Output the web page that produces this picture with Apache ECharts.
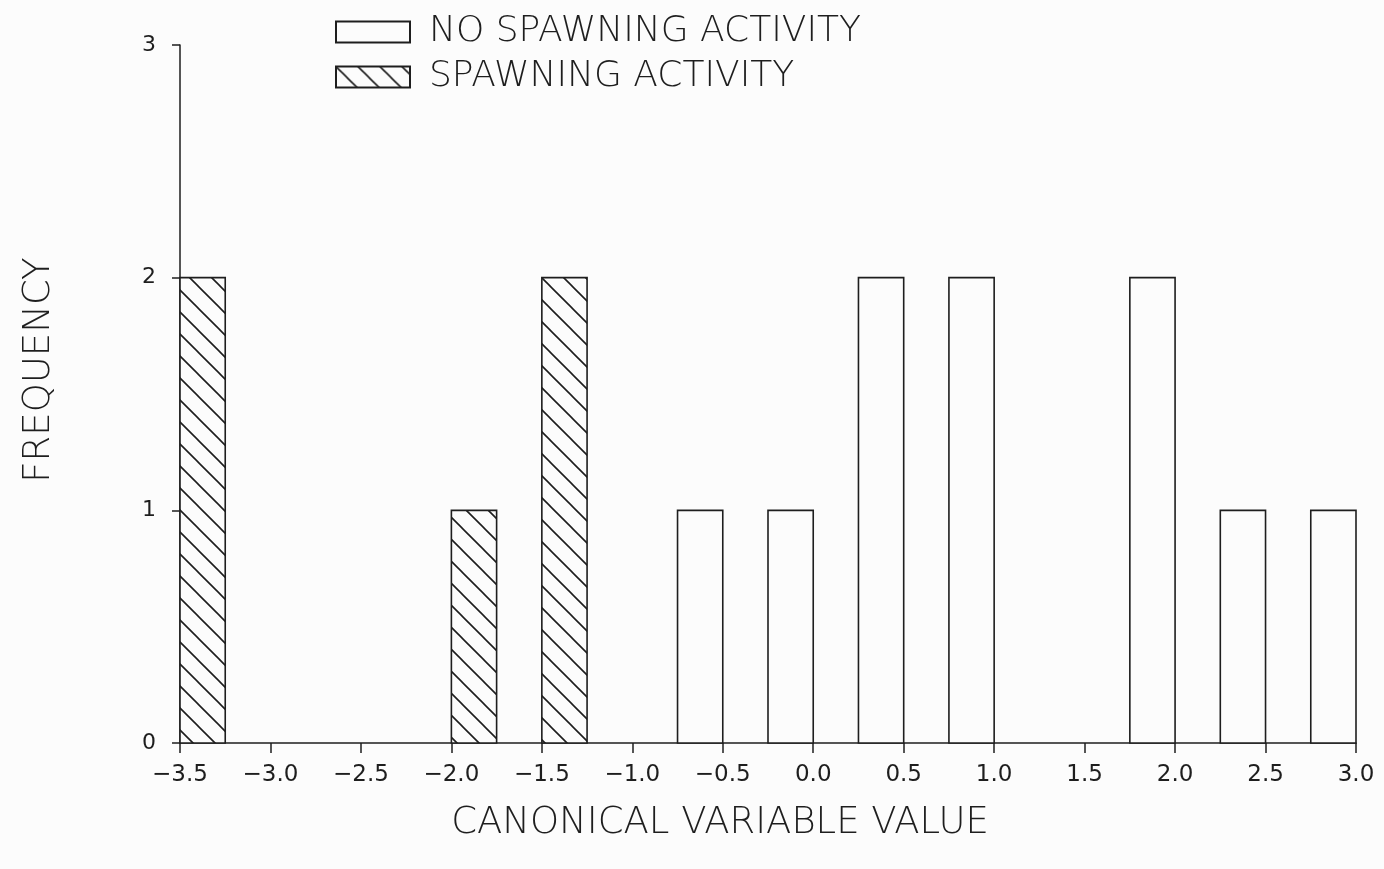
<!DOCTYPE html>
<html>
<head>
<meta charset="utf-8">
<script src="https://cdn.jsdelivr.net/npm/echarts@6/dist/echarts.min.js"></script>
<style>
  html, body { margin: 0; padding: 0; background: #fcfcfc; }
  #main { width: 1384px; height: 869px; }
</style>
</head>
<body>
<div id="main"></div>
<script>
// histogram bins (left edge of each bin) and counts
var binWidth = 0.25
var noSpawnStart = [-0.75, -0.25, 0.25, 0.75, 1.75, 2.25, 2.75]
var noSpawnCount = [1, 1, 2, 2, 2, 1, 1]
var spawnStart = [-3.5, -2.0, -1.5]
var spawnCount = [2, 1, 2]

var ink = '#1e1e1e'
var font = 'DejaVu Sans'

// diagonal hatch pattern (top-left to bottom-right)
function makeHatch() {
  var s = 22
  var c = document.createElement('canvas')
  c.width = s
  c.height = s
  var ctx = c.getContext('2d')
  ctx.fillStyle = '#fcfcfc'
  ctx.fillRect(0, 0, s, s)
  ctx.strokeStyle = ink
  ctx.lineWidth = 1.6
  ctx.beginPath()
  ctx.moveTo(-2, -2)
  ctx.lineTo(s + 2, s + 2)
  ctx.moveTo(-2, s - 2)
  ctx.lineTo(2, s + 2)
  ctx.moveTo(s - 2, -2)
  ctx.lineTo(s + 2, 2)
  ctx.stroke()
  return c
}

function toData(starts, counts) {
  var list = []
  for (var i = 0; i < starts.length; i++) {
    list.push([starts[i], starts[i] + binWidth, counts[i]])
  }
  return list
}

function renderBin(params, api) {
  var p0 = api.coord([api.value(0), api.value(2)])
  var p1 = api.coord([api.value(1), 0])
  return {
    type: 'rect',
    shape: { x: p0[0], y: p0[1], width: p1[0] - p0[0], height: p1[1] - p0[1] },
    style: api.style()
  }
}

var myChart = echarts.init(document.getElementById('main'))
var hatch = { image: makeHatch(), repeat: 'repeat' }
var titleText = { fontFamily: font, fontWeight: 200, fontSize: 37, color: ink }

var option = {
  backgroundColor: '#fcfcfc',
  animation: false,
  grid: { left: 180, right: 28, top: 45, bottom: 126 },
  legend: {
    left: 330,
    top: 9,
    orient: 'vertical',
    icon: 'rect',
    itemWidth: 74,
    itemHeight: 21,
    itemGap: 9,
    selectedMode: false,
    textStyle: Object.assign({}, titleText, { fontSize: 36, padding: [0, 0, 0, 14] }),
    data: ['NO SPAWNING ACTIVITY', 'SPAWNING ACTIVITY']
  },
  xAxis: {
    type: 'value',
    min: -3.5,
    max: 3.0,
    interval: 0.5,
    name: 'CANONICAL VARIABLE VALUE',
    nameLocation: 'middle',
    nameGap: 62,
    nameTextStyle: Object.assign({}, titleText, { padding: [0, 96, 0, 0] }),
    axisLine: { onZero: false, lineStyle: { color: ink, width: 1.5 } },
    axisTick: { show: true, length: 10, lineStyle: { color: ink, width: 1.5 } },
    axisLabel: {
      fontFamily: font, fontSize: 23, color: ink, margin: 21,
      formatter: function (v) { return (v < 0 ? '\u2212' : '') + Math.abs(v).toFixed(1) }
    },
    splitLine: { show: false }
  },
  yAxis: {
    type: 'value',
    min: 0,
    max: 3,
    interval: 1,
    name: 'FREQUENCY',
    nameLocation: 'middle',
    nameGap: 122,
    nameTextStyle: Object.assign({}, titleText, { padding: [0, 0, 0, 48] }),
    axisLine: { show: true, onZero: false, lineStyle: { color: ink, width: 1.5 } },
    axisTick: { show: true, length: 8, lineStyle: { color: ink, width: 1.5 } },
    axisLabel: { fontFamily: font, fontSize: 22, color: ink, margin: 24 },
    splitLine: { show: false }
  },
  series: [
    {
      name: 'NO SPAWNING ACTIVITY',
      type: 'custom',
      renderItem: renderBin,
      encode: { x: [0, 1], y: 2 },
      itemStyle: { color: '#fcfcfc', borderColor: ink, borderWidth: 1.6 },
      data: toData(noSpawnStart, noSpawnCount)
    },
    {
      name: 'SPAWNING ACTIVITY',
      type: 'custom',
      renderItem: renderBin,
      encode: { x: [0, 1], y: 2 },
      itemStyle: { color: hatch, borderColor: ink, borderWidth: 1.6 },
      data: toData(spawnStart, spawnCount)
    }
  ]
}
myChart.setOption(option)
</script>
</body>
</html>
